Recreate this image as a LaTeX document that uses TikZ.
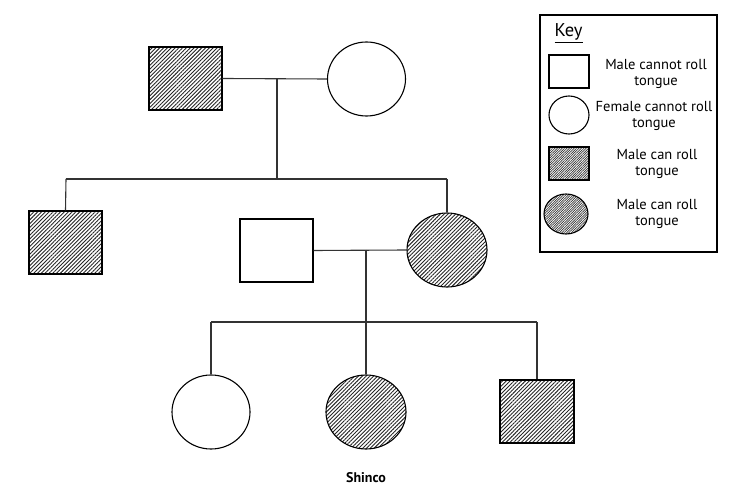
\documentclass[tikz,border=0pt]{standalone}
\usepackage{fontspec}
\setmainfont{PT Sans}
\usetikzlibrary{shapes.geometric,patterns.meta}
\tikzset{
  person/.style={draw=black, line width=1.1pt, inner sep=0pt, fill=white},
  male/.style={person, rectangle, minimum width=73pt, minimum height=63pt},
  female/.style={person, ellipse, minimum width=78pt, minimum height=74pt},
  hatch/.style={pattern={Lines[angle=45, distance=2.7pt, line width=0.9pt]}, pattern color=black!85},
  keyhatch/.style={pattern={Lines[angle=45, distance=1.7pt, line width=0.7pt]}, pattern color=black!80},
  link/.style={draw=black!80, line width=1.1pt},
  lbl/.style={font=\fontsize{14.5}{15.5}\selectfont, align=center, inner sep=0pt}
}
\begin{document}
\begin{tikzpicture}[x=1pt,y=-1pt]
\useasboundingbox (0,0) rectangle (736,494);
% generation I
\node[male, hatch] (gf) at (185.5,78.5) {};
\node[female] (gm) at (366.5,79) {};
\coordinate (m1) at (277,79);
\coordinate (s1) at (277,179);
\coordinate (s1l) at (66,179);
\coordinate (s1r) at (447,179);
\draw[link] (gf.east) -- (gm.west);
\draw[link] (m1) -- (s1);
\draw[link] (s1l) -- (s1r);
% generation II
\node[male, hatch] (son) at (65.5,242.5) {};
\node[male] (hus) at (276.5,250.5) {};
\node[female, hatch, minimum width=80pt] (dau) at (447,250) {};
\draw[link] (s1l) -- (son.north);
\draw[link] (s1r) -- (dau.north);
\draw[link] (hus.east) -- (dau.west);
\coordinate (m2) at (366,250);
\coordinate (s2) at (366,322);
\coordinate (s2l) at (211,322);
\coordinate (s2r) at (537,322);
\draw[link] (m2) -- (s2);
\draw[link] (s2l) -- (s2r);
% generation III
\node[female] (c1) at (211,412) {};
\node[female, hatch, minimum width=80pt] (c2) at (366,412) {};
\node[male, hatch, minimum width=74pt] (c3) at (537,411.5) {};
\draw[link] (s2l) -- (c1.north);
\draw[link] (s2) -- (c2.north);
\draw[link] (s2r) -- (c3.north);
\node[lbl, font=\fontsize{14}{15}\selectfont\bfseries] (title) at (366,478) {Shinco};
% key
\node[draw=black, line width=1.1pt, minimum width=177pt, minimum height=237pt, inner sep=0pt] (key) at (628.5,133.5) {};
\node[lbl, font=\fontsize{18.5}{20}\selectfont] (keyt) at (568.5,33) {\underline{Key}};
\node[person, rectangle, minimum width=40pt, minimum height=33pt] (k1) at (569,71.5) {};
\node[lbl] (k1t) at (656,74) {Male cannot roll\\tongue};
\node[person, ellipse, minimum width=40pt, minimum height=38pt] (k2) at (569,115) {};
\node[lbl] (k2t) at (654,116) {Female cannot roll\\tongue};
\node[person, rectangle, keyhatch, minimum width=40pt, minimum height=33pt] (k3) at (569,163.5) {};
\node[lbl] (k3t) at (657,164) {Male can roll\\tongue};
\node[person, ellipse, keyhatch, minimum width=44pt, minimum height=40pt] (k4) at (566,214) {};
\node[lbl] (k4t) at (657,214) {Male can roll\\tongue};
\end{tikzpicture}
\end{document}
